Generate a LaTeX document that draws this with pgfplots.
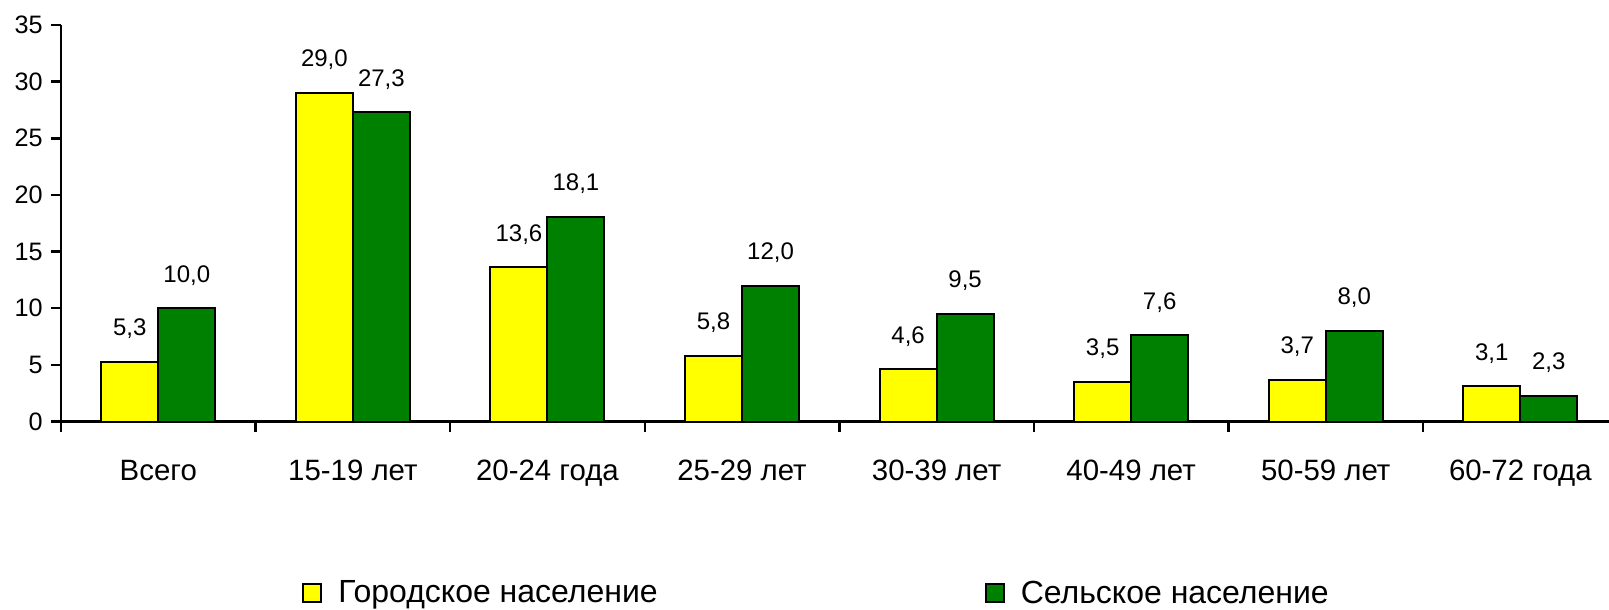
\documentclass[border=0pt]{standalone}
\usepackage{fontspec}
\setmainfont{Liberation Sans}
\usepackage{pgfplots}
\pgfplotsset{compat=1.18}
\definecolor{yel}{RGB}{255,255,0}
\definecolor{grn}{RGB}{0,128,0}
\begin{document}
\begin{tikzpicture}
\begin{axis}[
  at={(0,0)}, anchor=south west,
  scale only axis, width=778.3pt, height=198.3pt,
  xmin=-0.5, xmax=7.5, ymin=0, ymax=35,
  clip=false,
  /pgf/number format/assume math mode=true,
  ytick={0,5,...,35},
  xtick={-0.5,0.5,...,7.5},
  x tick label as interval,
  xticklabels={Всего,15-19 лет,20-24 года,25-29 лет,30-39 лет,40-49 лет,50-59 лет,60-72 года},
  axis x line=bottom, axis y line=left,
  axis line style={-, line width=1.2pt, black},
  tick style={line width=1.2pt, black},
  major tick length=5pt,
  tick align=outside,
  yticklabel style={font=\fontsize{12.6}{15}\selectfont, inner sep=0pt, anchor=east, xshift=-4pt},
  xticklabel style={font=\fontsize{14.7}{17}\selectfont, inner sep=0pt, anchor=north, yshift=-14pt},
  ybar=0pt, bar width=28.5pt,
  nodes near coords={\pgfmathprintnumber[fixed,fixed zerofill,precision=1,use comma]{\pgfplotspointmeta}},
  nodes near coords style={font=\fontsize{12}{14}\selectfont, inner sep=0pt, anchor=base, yshift=13pt},
  legend columns=2,
  legend style={at={(axis description cs:0.1548,-0.433)}, anchor=west, draw=none, fill=none,
    inner sep=0pt, font=\fontsize{16}{19}\selectfont,
    nodes={inner sep=0pt},
    /tikz/every odd column/.append style={column sep=8pt},
    /tikz/every even column/.append style={column sep=163.5pt}},
  every axis plot post/.append style={legend image code/.code={\draw[#1, line width=1pt] (0pt,-4.5pt) rectangle (9pt,4.5pt);}},
]
\addplot[fill=yel, draw=black, line width=1pt] coordinates {(0,5.3) (1,29.0) (2,13.6) (3,5.8) (4,4.6) (5,3.5) (6,3.7) (7,3.1)};
\addplot[fill=grn, draw=black, line width=1pt] coordinates {(0,10.0) (1,27.3) (2,18.1) (3,12.0) (4,9.5) (5,7.6) (6,8.0) (7,2.3)};
\legend{Городское население, Сельское население}
\end{axis}
\pgfresetboundingbox
\path[use as bounding box] (-30.5pt,-94.15pt) rectangle (774pt,210.8pt);
\end{tikzpicture}
\end{document}
